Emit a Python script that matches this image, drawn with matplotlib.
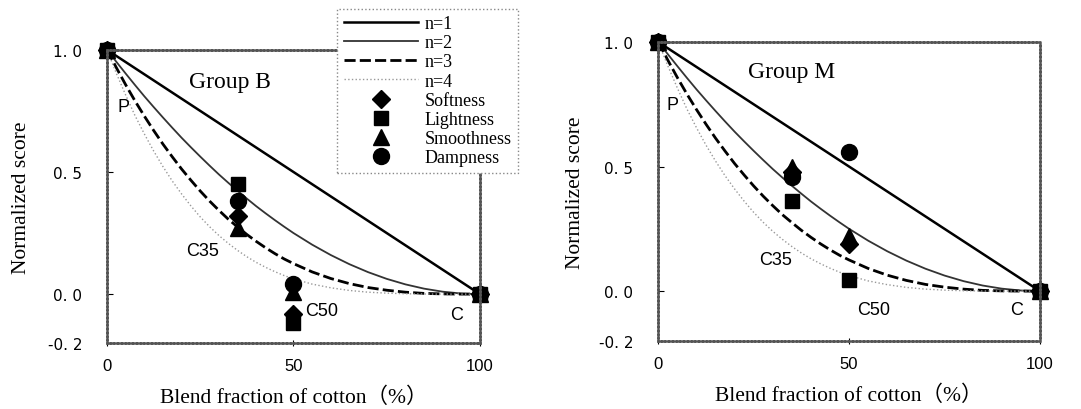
import numpy as np
import matplotlib.pyplot as plt

# blend fraction of cotton (%), model curves
x_curve = [0, 2.5, 5, 7.5, 10, 12.5, 15, 17.5, 20, 22.5, 25, 27.5, 30, 32.5, 35, 37.5,
           40, 42.5, 45, 47.5, 50, 55, 60, 65, 70, 75, 80, 85, 90, 95, 100]
n1 = [1.00, 0.975, 0.95, 0.925, 0.90, 0.875, 0.85, 0.825, 0.80, 0.775, 0.75, 0.725,
      0.70, 0.675, 0.65, 0.625, 0.60, 0.575, 0.55, 0.525, 0.50,
      0.45, 0.40, 0.35, 0.30, 0.25, 0.20, 0.15, 0.10, 0.05, 0.00]
n2 = [1.00, 0.951, 0.903, 0.856, 0.81, 0.766, 0.723, 0.681, 0.64, 0.601, 0.563, 0.526,
      0.49, 0.456, 0.423, 0.391, 0.36, 0.331, 0.303, 0.276, 0.25,
      0.2025, 0.16, 0.1225, 0.09, 0.0625, 0.04, 0.0225, 0.01, 0.0025, 0.00]
n3 = [1.00, 0.927, 0.857, 0.791, 0.729, 0.670, 0.614, 0.562, 0.512, 0.466, 0.422, 0.381,
      0.343, 0.307, 0.275, 0.244, 0.216, 0.190, 0.166, 0.144, 0.125,
      0.091, 0.064, 0.043, 0.027, 0.016, 0.008, 0.003, 0.001, 0.0001, 0.00]
n4 = [1.00, 0.904, 0.815, 0.731, 0.656, 0.586, 0.522, 0.463, 0.410, 0.361, 0.316, 0.276,
      0.240, 0.208, 0.179, 0.153, 0.130, 0.110, 0.092, 0.076, 0.0625,
      0.041, 0.026, 0.015, 0.008, 0.004, 0.0016, 0.0005, 0.0001, 0.0, 0.00]

blend = [0, 35, 50, 100]
# Group B
b_softness = [1.0, 0.32, -0.08, 0.0]
b_lightness = [1.0, 0.45, -0.12, 0.0]
b_smoothness = [1.0, 0.27, 0.01, 0.0]
b_dampness = [1.0, 0.38, 0.04, 0.0]
# Group M
m_softness = [1.0, 0.48, 0.19, 0.0]
m_lightness = [1.0, 0.36, 0.045, 0.0]
m_smoothness = [1.0, 0.50, 0.22, 0.0]
m_dampness = [1.0, 0.46, 0.56, 0.0]

x_ticks = [0, 50, 100]
y_ticks = [1.0, 0.5, 0.0, -0.2]
y_ticklabels = ['1. 0', '0. 5', '0. 0', '-0. 2']

serif = ['Liberation Serif', 'Noto Sans CJK JP']
sans = ['Liberation Sans', 'DejaVu Sans']

fig = plt.figure(figsize=(10.81, 4.10), dpi=100)
ax_b = fig.add_axes([0.099, 0.161, 0.345, 0.715])
ax_m = fig.add_axes([0.609, 0.166, 0.353, 0.729])


def draw_panel(ax, soft, light, smooth, damp, title, title_xy, labels, ylabelpad):
    ax.plot(x_curve, n1, color='black', lw=1.8, label='n=1')
    ax.plot(x_curve, n2, color='#333333', lw=1.3, label='n=2')
    ax.plot(x_curve, n3, color='black', lw=2.0, dashes=(4, 1.5), label='n=3')
    ax.plot(x_curve, n4, color='#999999', lw=1.0, ls=':', label='n=4')
    ax.plot(blend, soft, 'D', color='black', ms=9.5, ls='none', clip_on=False, label='Softness')
    ax.plot(blend, light, 's', color='black', ms=9.5, ls='none', clip_on=False, label='Lightness')
    ax.plot(blend, smooth, '^', color='black', ms=12, ls='none', clip_on=False, label='Smoothness')
    ax.plot(blend, damp, 'o', color='black', ms=11.5, ls='none', clip_on=False, label='Dampness')

    ax.set_xlim(0, 100)
    ax.set_ylim(-0.2, 1.0)
    ax.set_xticks(x_ticks)
    ax.set_yticks(y_ticks)
    ax.set_yticklabels(y_ticklabels)
    ax.tick_params(axis='y', direction='in', length=4, pad=18, labelsize=11)
    ax.tick_params(axis='x', direction='inout', length=5, pad=8, labelsize=12)
    for lab in ax.get_xticklabels():
        lab.set_family(sans)
    for s in ax.spines.values():
        s.set_color('#555555')
        s.set_linewidth(1.8)
        s.set_linestyle((0, (1, 0.5)))

    ax.set_xlabel('Blend fraction of cotton（%）', family=serif, fontsize=15.5, labelpad=10)
    ax.set_ylabel('Normalized score', family=serif, fontsize=15.5, labelpad=ylabelpad)
    ax.text(title_xy[0], title_xy[1], title, family=serif, fontsize=17,
            ha='center', va='center')
    for txt, (tx, ty) in labels:
        ax.text(tx, ty, txt, family=sans, fontsize=13, ha='center', va='center')


draw_panel(ax_b, b_softness, b_lightness, b_smoothness, b_dampness, 'Group B', (33, 0.87),
           [('P', (4.3, 0.77)), ('C35', (25.5, 0.18)), ('C50', (57.6, -0.065)), ('C', (93.8, -0.085))],
           12)
draw_panel(ax_m, m_softness, m_lightness, m_smoothness, m_dampness, 'Group M', (34.8, 0.88),
           [('P', (3.7, 0.75)), ('C35', (30.6, 0.125)), ('C50', (56.3, -0.075)), ('C', (94, -0.075))],
           10)

handles, labels = ax_b.get_legend_handles_labels()
leg = fig.legend(handles, labels, loc='upper left', bbox_to_anchor=(0.312, 0.976),
                 prop={'family': serif, 'size': 13}, handlelength=4.1, labelspacing=0.12,
                 borderpad=0.35, handletextpad=0.4, fancybox=False, framealpha=1,
                 borderaxespad=0)
leg.get_frame().set_edgecolor('#888888')
leg.get_frame().set_linestyle(':')
leg.get_frame().set_linewidth(1.0)

fig.savefig('out.png', dpi=100)
